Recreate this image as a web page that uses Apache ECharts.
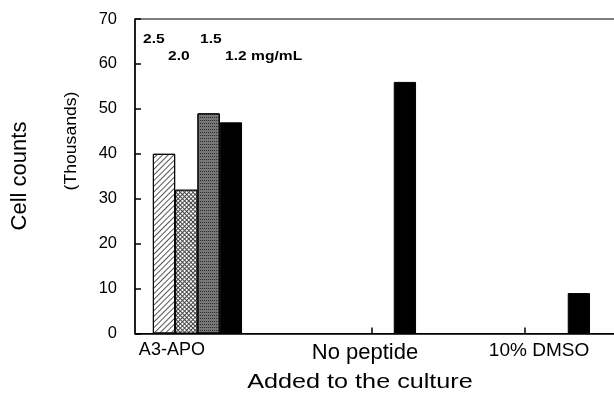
<!DOCTYPE html>
<html>
<head>
<meta charset="utf-8">
<script src="https://cdn.jsdelivr.net/npm/echarts@6/dist/echarts.min.js"></script>
<style>html,body{margin:0;padding:0;background:#fff}#c{width:614px;height:400px}</style>
</head>
<body>
<div id="c"></div>
<script>
// ---- data ----
var categories = ['A3-APO', 'No peptide', '10% DMSO'];
var doseNames = ['2.5', '2.0', '1.5', '1.2 mg/mL'];
var dose25 = [40, null, null];
var dose20 = [32, null, null];
var dose15 = [49, null, null];
var dose12 = [47, 56, 9];
var yTicks = [0, 10, 20, 30, 40, 50, 60, 70];

function pairs(arr) {
  var out = [];
  arr.forEach(function (v, i) { if (v !== null) out.push([i, v]); });
  return out;
}

var chart = echarts.init(document.getElementById('c'), null, {renderer: 'canvas'});
var FONT = 'Liberation Sans, Arial, sans-serif';
var labelPos = [-0.147, 0.963, 1.963];
var labelStyle = ['a', 'b', 'c'];

var common = {
  type: 'bar',
  barWidth: 22.3,
  barGap: '0%'
};

var option = {
  animation: false,
  backgroundColor: '#fff',
  grid: {left: 135, top: 19, right: -20, bottom: 66.5, outerBoundsMode: 'none', containLabel: false,
    show: true, borderColor: '#000', borderWidth: 1, backgroundColor: 'transparent'},
  xAxis: {
    type: 'value',
    min: -0.359,
    max: 2.509,
    splitLine: {show: false},
    axisLine: {show: true, onZero: false, lineStyle: {color: '#000', width: 1.5}},
    axisTick: {show: true, inside: true, length: 6, lineStyle: {color: '#000', width: 1.5}, customValues: [1, 1.88]},
    axisLabel: {
      show: true,
      customValues: labelPos,
      margin: 8,
      color: '#000',
      formatter: function (v, idx) {
        var k = labelPos.indexOf(v);
        if (k < 0) k = idx;
        return '{' + labelStyle[k] + '|' + categories[k] + '}';
      },
      rich: {
        a: {fontFamily: FONT, fontSize: 18, color: '#000'},
        b: {fontFamily: FONT, fontSize: 22, color: '#000'},
        c: {fontFamily: FONT, fontSize: 19, color: '#000'}
      }
    }
  },
  yAxis: {
    type: 'value',
    min: yTicks[0],
    max: yTicks[yTicks.length - 1],
    interval: 10,
    splitLine: {show: false},
    axisLine: {show: true, onZero: false, lineStyle: {color: '#000', width: 1.5}},
    axisTick: {show: true, inside: true, length: 6, lineStyle: {color: '#000', width: 1.5}},
    axisLabel: {color: '#000', fontFamily: FONT, fontSize: 16.5, margin: 18}
  },
  series: [
    Object.assign({}, common, {
      name: doseNames[0], data: pairs(dose25),
      itemStyle: {color: '#fff', borderColor: '#000', borderWidth: 1,
        decal: {symbol: 'rect', symbolSize: 1, dashArrayX: [[1, 0]], dashArrayY: [1, 3], rotation: -Math.PI / 4, color: '#555'}}
    }),
    Object.assign({}, common, {
      name: doseNames[1], data: pairs(dose20),
      itemStyle: {color: '#fff', borderColor: '#000', borderWidth: 1,
        decal: {symbol: 'rect', symbolSize: 1, dashArrayX: [2, 1], dashArrayY: [2, 1], rotation: Math.PI / 4, color: '#fff', backgroundColor: '#444'}}
    }),
    Object.assign({}, common, {
      name: doseNames[2], data: pairs(dose15),
      itemStyle: {color: '#777', borderColor: '#000', borderWidth: 1,
        decal: {symbol: 'rect', symbolSize: 1, dashArrayX: [1, 1], dashArrayY: [1, 2], rotation: 0, color: '#2a2a2a'}}
    }),
    Object.assign({}, common, {
      name: doseNames[3], data: pairs(dose12),
      itemStyle: {color: '#000', borderColor: '#000', borderWidth: 1}
    })
  ],
  graphic: [
    {type: 'text', x: 20, y: 176, rotation: Math.PI / 2,
      style: {text: 'Cell counts', fontFamily: FONT, fontSize: 22, fill: '#000', textAlign: 'center', textVerticalAlign: 'middle'}},
    {type: 'text', x: 72, y: 141, rotation: Math.PI / 2, scaleX: 1.1,
      style: {text: '(Thousands)', fontFamily: FONT, fontSize: 16, fill: '#000', textAlign: 'center', textVerticalAlign: 'middle'}},
    {type: 'text', x: 360, y: 382, scaleX: 1.2,
      style: {text: 'Added to the culture', fontFamily: FONT, fontSize: 21, fill: '#000', textAlign: 'center', textVerticalAlign: 'middle'}},
    {type: 'text', x: 143, y: 40, scaleX: 1.3,
      style: {text: doseNames[0], fontFamily: FONT, fontWeight: 'bold', fontSize: 12, fill: '#000', textAlign: 'left', textVerticalAlign: 'middle'}},
    {type: 'text', x: 168, y: 57, scaleX: 1.3,
      style: {text: doseNames[1], fontFamily: FONT, fontWeight: 'bold', fontSize: 12, fill: '#000', textAlign: 'left', textVerticalAlign: 'middle'}},
    {type: 'text', x: 200, y: 40, scaleX: 1.3,
      style: {text: doseNames[2], fontFamily: FONT, fontWeight: 'bold', fontSize: 12, fill: '#000', textAlign: 'left', textVerticalAlign: 'middle'}},
    {type: 'text', x: 225, y: 57, scaleX: 1.3,
      style: {text: doseNames[3], fontFamily: FONT, fontWeight: 'bold', fontSize: 12, fill: '#000', textAlign: 'left', textVerticalAlign: 'middle'}}
  ]
};
chart.setOption(option);
</script>
</body>
</html>
